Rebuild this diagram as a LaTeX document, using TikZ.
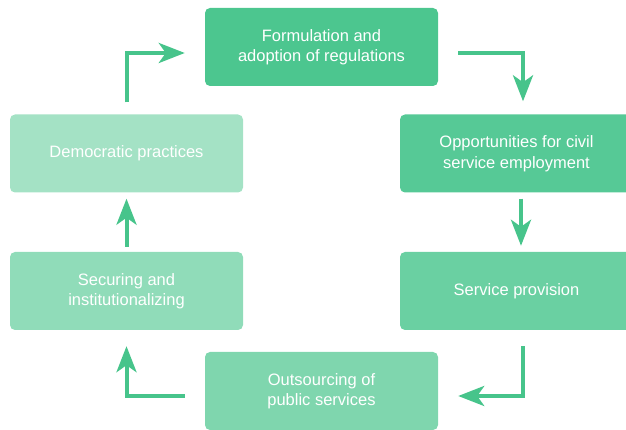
\documentclass[tikz,border=0pt]{standalone}
\usepackage{fontspec}
\setmainfont{Liberation Sans}
\usetikzlibrary{arrows.meta,calc}
\definecolor{arrowgreen}{HTML}{47C48B}
\definecolor{boxA}{HTML}{4CC68F}
\definecolor{boxB}{HTML}{56C996}
\definecolor{boxC}{HTML}{6AD0A2}
\definecolor{boxD}{HTML}{7FD6AE}
\definecolor{boxE}{HTML}{90DCB9}
\definecolor{boxF}{HTML}{A4E2C5}
\tikzset{
  stage/.style={rounded corners=5pt, minimum width=233pt, minimum height=78pt,
    inner sep=0pt, text=white, align=center, font=\fontsize{16.5pt}{20.5pt}\selectfont},
  flow/.style={draw=arrowgreen, line width=4pt,
    -{Stealth[length=26pt,width=20pt,inset=7pt]}}
}
\begin{document}
\begin{tikzpicture}[x=1pt,y=1pt]
\useasboundingbox (0,0) rectangle (626,430);
\clip (0,0) rectangle (626,430);
% process stages
\node[stage, fill=boxA] (form) at (321.5,383) {Formulation and\\adoption of regulations};
\node[stage, fill=boxB] (opp)  at (516.5,276.5) {Opportunities for civil\\service employment};
\node[stage, fill=boxC] (serv) at (516.5,139) {Service provision};
\node[stage, fill=boxD] (out)  at (321.5,39) {Outsourcing of\\public services};
\node[stage, fill=boxE] (sec)  at (126.5,139) {Securing and\\institutionalizing};
\node[stage, fill=boxF] (dem)  at (126.5,276.5) {Democratic practices};
% connectors between stages
\draw[flow] ([yshift=12pt]dem.north) |- ([xshift=-20pt,yshift=-6pt]form.west);
\draw[flow] ([xshift=20pt,yshift=-6pt]form.east) -| ([xshift=6.5pt,yshift=13pt]opp.north);
\draw[flow] ([xshift=4.5pt,yshift=-6pt]opp.south) -- ([xshift=4.5pt,yshift=6pt]serv.north);
\draw[flow] ([xshift=6.5pt,yshift=-16pt]serv.south) |- ([xshift=20pt,yshift=-5pt]out.east);
\draw[flow] ([xshift=-20pt,yshift=-5pt]out.west) -| ([yshift=-16pt]sec.south);
\draw[flow] ([yshift=5pt]sec.north) -- ([yshift=-6pt]dem.south);
\end{tikzpicture}
\end{document}
